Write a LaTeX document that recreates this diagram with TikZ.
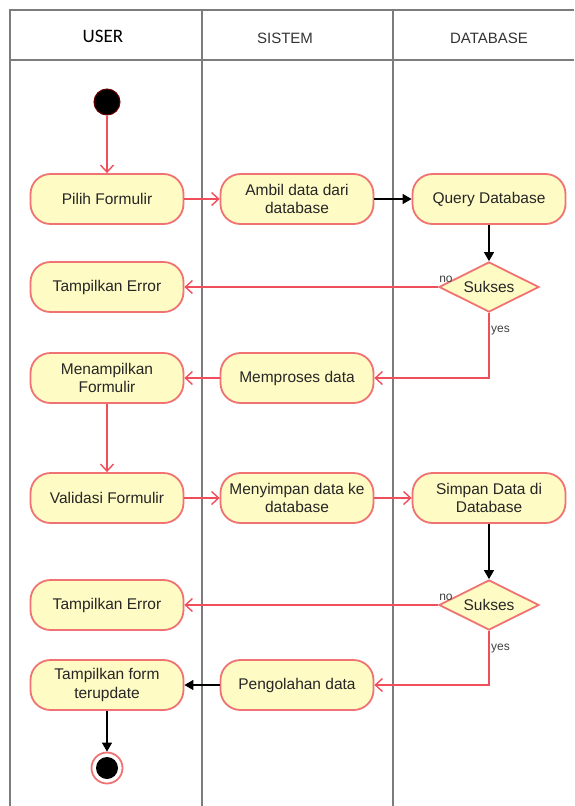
\documentclass[tikz,border=0pt]{standalone}
\usepackage{fontspec}
\setmainfont{Liberation Sans}
\newfontfamily\headfont{Carlito}
\usetikzlibrary{arrows.meta,shapes.geometric}

\definecolor{actfill}{HTML}{FEFBC4}
\definecolor{actline}{HTML}{F07272}
\definecolor{flowred}{HTML}{F04E5A}
\definecolor{laneline}{HTML}{7C7C7C}

\tikzset{
  activity/.style={rectangle, rounded corners=20pt, draw=actline, line width=1.8pt,
    fill=actfill, minimum width=153pt, minimum height=50pt, align=center,
    font=\fontsize{15.5}{18.5}\selectfont, text=black!85, inner sep=2pt},
  decision/.style={diamond, draw=actline, line width=1.8pt, fill=actfill,
    minimum width=100pt, minimum height=50pt, aspect=2, inner sep=0pt,
    font=\fontsize{15.5}{18.5}\selectfont, text=black!85},
  redflow/.style={draw=flowred, line width=1.4pt,
    -{Straight Barb[length=7pt,width=13pt,line width=1.4pt]}},
  blackflow/.style={draw=black, line width=1.4pt,
    -{Triangle[length=9pt,width=10pt]}},
  lane/.style={draw=laneline, line width=2pt},
  guard/.style={font=\fontsize{12}{14}\selectfont, text=black!75, inner sep=1pt},
  lanetitle/.style={font=\fontsize{15}{18}\selectfont, text=black!80}
}

\begin{document}
\begin{tikzpicture}[x=1pt,y=-1pt]
  \useasboundingbox (0,0) rectangle (574,806);

  % swimlane frame
  \draw[lane] (574,9.5) -- (10,9.5) -- (10,806);
  \draw[lane] (10,60) -- (574,60);
  \draw[lane] (202,9.5) -- (202,806);
  \draw[lane] (393,9.5) -- (393,806);

  \node[font=\headfont\fontsize{19}{22}\selectfont] (hUser) at (103,36) {USER};
  \node[lanetitle] (hSistem) at (285,38) {SISTEM};
  \node[lanetitle] (hDb) at (489,38) {DATABASE};

  % start and end
  \node[circle, fill=black, draw=black!60!red, line width=1pt, minimum size=26pt, inner sep=0pt] (start) at (107,102) {};
  \node[circle, fill=white, draw=actline, line width=1.8pt, minimum size=31pt, inner sep=0pt] (finish) at (107,768) {};
  \node[circle, fill=black, minimum size=22pt, inner sep=0pt] (finishDot) at (107,768) {};

  % activities
  \node[activity] (pilih) at (107,199) {Pilih Formulir};
  \node[activity] (ambil) at (297,199) {Ambil data dari\\database};
  \node[activity] (query) at (489,199) {Query Database};
  \node[decision] (cek1) at (489,287) {Sukses};
  \node[activity] (err1) at (107,287) {Tampilkan Error};
  \node[activity] (tampil) at (107,378) {Menampilkan\\Formulir};
  \node[activity] (proses) at (297,378) {Memproses data};
  \node[activity] (validasi) at (107,498) {Validasi Formulir};
  \node[activity] (simpan) at (297,498) {Menyimpan data ke\\database};
  \node[activity] (simpandb) at (489,498) {Simpan Data di\\Database};
  \node[decision] (cek2) at (489,605) {Sukses};
  \node[activity] (err2) at (107,605) {Tampilkan Error};
  \node[activity] (update) at (107,685) {Tampilkan form\\terupdate};
  \node[activity] (olah) at (297,685) {Pengolahan data};

  % flows
  \draw[redflow] (start) -- (pilih);
  \draw[redflow] (pilih) -- (ambil);
  \draw[blackflow] (ambil) -- (query);
  \draw[blackflow] (query) -- (cek1);
  \draw[redflow] (cek1.west) -- (err1);
  \draw[redflow] (cek1.south) |- (proses.east);
  \draw[redflow] (proses) -- (tampil);
  \draw[redflow] (tampil) -- (validasi);
  \draw[redflow] (validasi) -- (simpan);
  \draw[redflow] (simpan) -- (simpandb);
  \draw[blackflow] (simpandb) -- (cek2);
  \draw[redflow] (cek2.west) -- (err2);
  \draw[redflow] (cek2.south) |- (olah.east);
  \draw[blackflow] (olah) -- (update);
  \draw[blackflow] (update) -- (finish);

  % guards
  \node[guard, anchor=south west] (no1) at ([yshift=3pt]cek1.west) {no};
  \node[guard, anchor=north west] (yes1) at ([xshift=1pt,yshift=-12pt]cek1.south) {yes};
  \node[guard, anchor=south west] (no2) at ([yshift=3pt]cek2.west) {no};
  \node[guard, anchor=north west] (yes2) at ([xshift=1pt,yshift=-12pt]cek2.south) {yes};
\end{tikzpicture}
\end{document}
